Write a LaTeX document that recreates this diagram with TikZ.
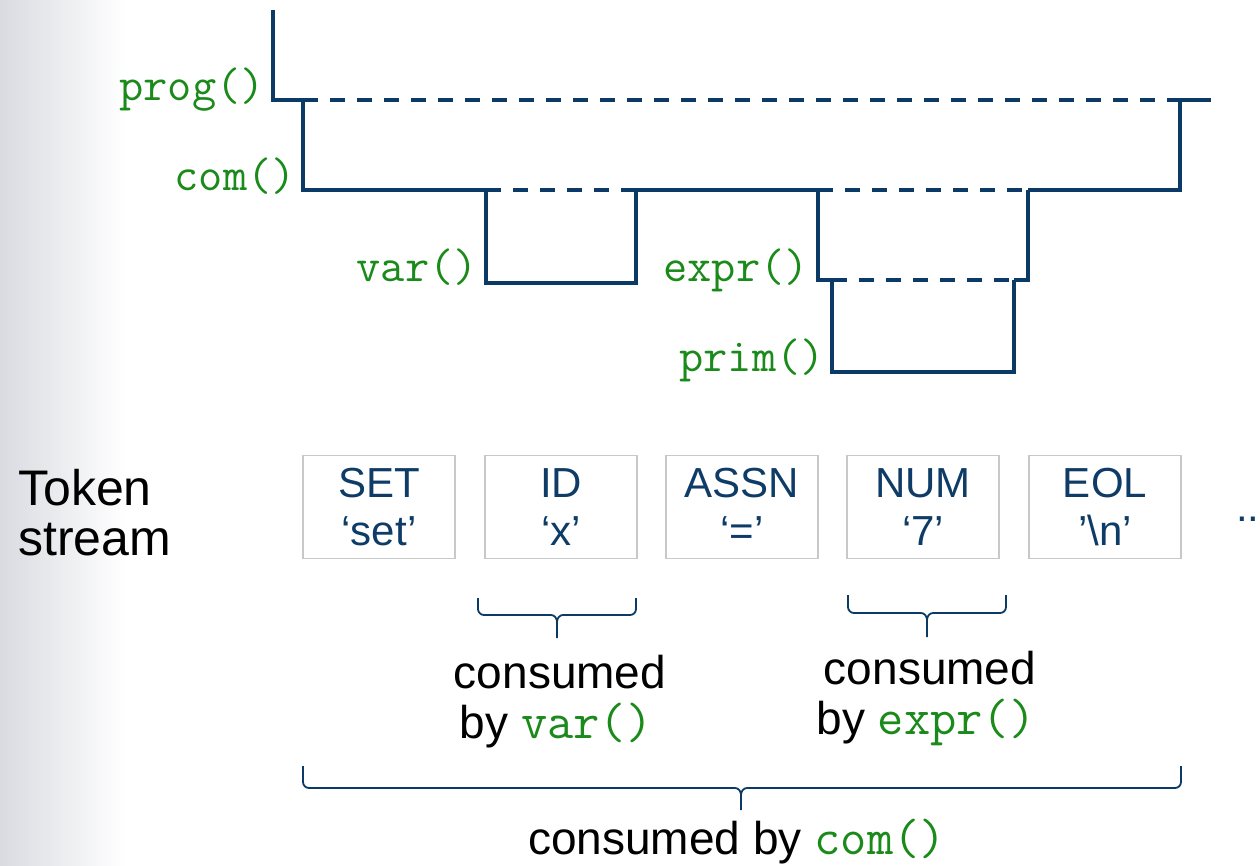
\documentclass[tikz,border=0pt]{standalone}
\usepackage{fontspec}
\setmainfont{Liberation Sans}
\definecolor{navy}{HTML}{0B3A66}
\definecolor{codegreen}{HTML}{1A8A1A}
\definecolor{tokblue}{HTML}{0E3C66}
\definecolor{boxgray}{HTML}{C8C8C8}
\definecolor{sidegray}{HTML}{D9DBE1}
\tikzset{
  tree/.style={navy, line width=3.5pt, line cap=butt, line join=miter},
  treedash/.style={tree, dash pattern=on 15pt off 12pt},
  code/.style={text=codegreen, font=\fontsize{47}{47}\selectfont\ttfamily, inner sep=0pt},
  tokbox/.style={draw=boxgray, line width=1.6pt, minimum width=152pt, minimum height=103pt,
    text=tokblue, align=center, font=\fontsize{42}{48}\selectfont, inner sep=0pt},
  bigtxt/.style={text=black, font=\fontsize{50}{50}\selectfont, inner sep=0pt},
  captxt/.style={text=black, font=\fontsize{46}{50}\selectfont, inner sep=0pt},
  bracestyle/.style={navy, line width=1.8pt}
}
\newcommand{\cd}[1]{{\color{codegreen}\ttfamily\fontsize{51}{50}\selectfont #1}}
\begin{document}
\begin{tikzpicture}[x=1pt,y=-1pt]
\useasboundingbox (0,0) rectangle (1260,866);
\shade[left color=sidegray, right color=white] (0,0) rectangle (125,866);

% labels
\node[code, anchor=base east] (lprog) at (265,101) {prog()};
\node[code, anchor=base east] (lcom)  at (296,191) {com()};
\node[code, anchor=base east] (lvar)  at (478,282) {var()};
\node[code, anchor=base east] (lexpr) at (809,282) {expr()};
\node[code, anchor=base east] (lprim) at (825,371) {prim()};

% tree coordinates
\coordinate (p0) at (273,10);
\coordinate (p1) at (273,100);
\coordinate (p2) at (303,100);
\coordinate (p3) at (1180,100);
\coordinate (p4) at (1211,100);
\coordinate (c1) at (303,190);
\coordinate (c2) at (486,190);
\coordinate (c3) at (636,190);
\coordinate (c4) at (818,190);
\coordinate (c5) at (1028,190);
\coordinate (c6) at (1180,190);
\coordinate (v1) at (486,283);
\coordinate (v2) at (636,283);
\coordinate (e1) at (818,280);
\coordinate (e2) at (832,280);
\coordinate (e3) at (1014,280);
\coordinate (e4) at (1028,280);
\coordinate (r1) at (832,372);
\coordinate (r2) at (1014,372);

% prog
\draw[tree] (p0) -- (p1) -- (p2);
\draw[treedash] (p2) -- (p3);
\draw[tree] (p3) -- (p4);
% com
\draw[tree] (p2) -- (c1) -- (c2);
\draw[treedash] (c2) -- (c3);
\draw[tree] (c3) -- (c4);
\draw[treedash] (c4) -- (c5);
\draw[tree] (c5) -- (c6) -- (p3);
% var
\draw[tree] (c2) -- (v1) -- (v2) -- (c3);
% expr
\draw[tree] (c4) -- (e1) -- (e2);
\draw[treedash] (e2) -- (e3);
\draw[tree] (e3) -- (e4) -- (c5);
% prim
\draw[tree] (e2) -- (r1) -- (r2) -- (e3);

% token stream
\node[bigtxt, anchor=base west] (ts1) at (18,505) {Token};
\node[bigtxt, anchor=base west] (ts2) at (18,555) {stream};

\node[tokbox] (tset)  at (379,507) {SET\\‘set’};
\node[tokbox] (tid)   at (561,507) {ID\\‘x’};
\node[tokbox] (tassn) at (742,507) {ASSN\\‘=’};
\node[tokbox] (tnum)  at (923,507) {NUM\\‘7’};
\node[tokbox] (teol)  at (1105,507) {EOL\\’\textbackslash n’};
\node[text=tokblue, font=\fontsize{42}{48}\selectfont, anchor=base west, inner sep=0pt] (tdots) at (1236,521) {...};

% braces
\draw[bracestyle] (478,598) -- (478,609) to[out=-90,in=180] (484,615) -- (551,615)
  to[out=0,in=90] (557,622) -- (557,638);
\draw[bracestyle] (636,598) -- (636,609) to[out=-90,in=0] (630,615) -- (563,615)
  to[out=180,in=90] (557,622);
\draw[bracestyle] (848,595) -- (848,607) to[out=-90,in=180] (854,613) -- (921,613)
  to[out=0,in=90] (927,620) -- (927,637);
\draw[bracestyle] (1006,595) -- (1006,607) to[out=-90,in=0] (1000,613) -- (933,613)
  to[out=180,in=90] (927,620);
\draw[bracestyle] (303,766) -- (303,782) to[out=-90,in=180] (309,788) -- (735,788)
  to[out=0,in=90] (741,795) -- (741,810);
\draw[bracestyle] (1181,766) -- (1181,782) to[out=-90,in=0] (1175,788) -- (747,788)
  to[out=180,in=90] (741,795);

% captions
\node[captxt, anchor=base] (cv1) at (560,688) {consumed};
\node[captxt, anchor=base] (cv2) at (556,738) {by \cd{var()}};
\node[captxt, anchor=base] (ce1) at (930,684) {consumed};
\node[captxt, anchor=base] (ce2) at (926,734) {by \cd{expr()}};
\node[captxt, anchor=base] (cc)  at (737,854) {consumed by \cd{com()}};
\end{tikzpicture}
\end{document}
